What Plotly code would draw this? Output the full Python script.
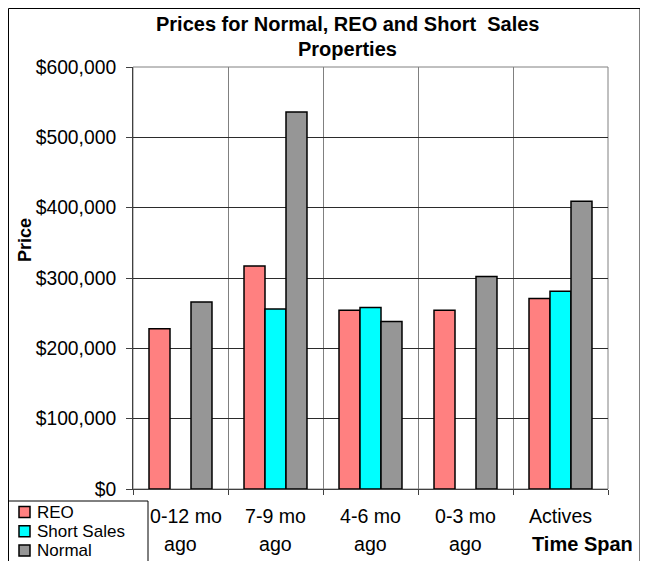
import plotly.graph_objects as go

categories = ["0-12 mo ago", "7-9 mo ago", "4-6 mo ago", "0-3 mo ago", "Actives"]
tick_line1 = ["\u00a0\u00a00-12 mo", "7-9 mo", "4-6 mo", "0-3 mo", "Actives"]
tick_line2 = ["ago", "ago", "ago", "ago", ""]
reo = [228000, 317000, 254000, 254000, 271000]
short_sales = [None, 256000, 258000, None, 281000]
normal = [266000, 536000, 238000, 302000, 409000]
series_names = ["REO", "Short Sales", "Normal"]
series_colors = ["#FF8080", "#00FFFF", "#969696"]

OFF = 8  # page body margin
W, H = 648 - OFF, 561 - OFF
# plot area in screen pixels
PX0, PX1, PY0, PY1 = 133, 608, 67, 489
L = PX0 - OFF
T = PY0 - OFF
R = W - (PX1 - OFF)
B = H - (PY1 - OFF)
pw, ph = PX1 - PX0, PY1 - PY0

def px_x(px):
    return (px - PX0) / pw

def px_y(py):
    return (PY1 - py) / ph

FONT = "Liberation Sans, Arial, sans-serif"

fig = go.Figure()
for name, vals, col in zip(series_names, [reo, short_sales, normal], series_colors):
    fig.add_trace(go.Bar(x=categories, y=vals, name=name, showlegend=False,
                         marker=dict(color=col, line=dict(color="black", width=1.5))))

fig.update_layout(
    width=W, height=H,
    margin=dict(l=L, r=R, t=T, b=B, autoexpand=False),
    paper_bgcolor="white", plot_bgcolor="white",
    barmode="group", bargap=0.337, bargroupgap=0,
    font=dict(family=FONT, size=20, color="black"),
    showlegend=False,
    xaxis=dict(type="category", tickmode="array", tickvals=categories, ticktext=tick_line1,
               range=[-0.5, len(categories) - 0.5],
               tickson="boundaries", showgrid=True, gridcolor="#808080", gridwidth=1,
               ticks="outside", ticklen=5, tickcolor="#404040",
               showline=True, linecolor="#404040", linewidth=1,
               tickfont=dict(size=19.6), ticklabelstandoff=9, automargin=False),
    yaxis=dict(range=[0, 600000], dtick=100000, tickprefix="$", tickformat=",",
               showgrid=True, gridcolor="#2b2b2b", gridwidth=1,
               ticks="outside", ticklen=6, tickcolor="#404040",
               showline=True, linecolor="#404040", linewidth=1,
               tickfont=dict(size=19.3), zeroline=False, ticklabelstandoff=6, automargin=False),
)

# plot area frame (top/right)
fig.add_shape(type="rect", xref="paper", yref="paper", x0=0, x1=1, y0=0, y1=1,
              line=dict(color="#808080", width=1), layer="below")
# outer chart border
fig.add_shape(type="rect", xref="paper", yref="paper",
              x0=px_x(8.5), x1=px_x(640), y0=px_y(600), y1=px_y(8.5),
              line=dict(color="black", width=1), layer="below")

# title
fig.add_annotation(text="<b>Prices for Normal, REO and Short  Sales</b>", xref="paper", yref="paper",
                   x=px_x(347), y=px_y(24), showarrow=False, font=dict(size=20),
                   xanchor="center", yanchor="middle")
fig.add_annotation(text="<b>Properties</b>", xref="paper", yref="paper",
                   x=px_x(347), y=px_y(49), showarrow=False, font=dict(size=20),
                   xanchor="center", yanchor="middle")
# y axis title
fig.add_annotation(text="<b>Price</b>", xref="paper", yref="paper",
                   x=px_x(25), y=px_y(240), showarrow=False, textangle=-90,
                   font=dict(size=18), xanchor="center", yanchor="middle")
# second line of category labels
for c, t2 in zip(categories, tick_line2):
    if t2:
        fig.add_annotation(text=t2, xref="x", yref="paper", x=c, y=px_y(544),
                           showarrow=False, font=dict(size=19.6), xanchor="center", yanchor="middle")
fig.add_annotation(text="<b>Time Span</b>", xref="x", yref="paper", x=categories[-1], y=px_y(544),
                   xshift=22, showarrow=False, font=dict(size=20), xanchor="center", yanchor="middle")

# legend box (drawn manually to match the tight spacing of the original)
fig.add_shape(type="rect", xref="paper", yref="paper",
              x0=px_x(8.5), x1=px_x(148), y0=px_y(600), y1=px_y(501),
              line=dict(color="black", width=1), fillcolor="white", layer="above")
leg_y = [512, 531.3, 550.6]
for name, col, yy in zip(series_names, series_colors, leg_y):
    fig.add_shape(type="rect", xref="paper", yref="paper",
                  x0=px_x(19), x1=px_x(30), y0=px_y(yy + 5.5), y1=px_y(yy - 5.5),
                  line=dict(color="black", width=1.5), fillcolor=col, layer="above")
    fig.add_annotation(text=name, xref="paper", yref="paper", x=px_x(36), y=px_y(yy),
                       showarrow=False, font=dict(size=17), borderpad=0,
                       xanchor="left", yanchor="middle")

fig.write_html("out.html")
